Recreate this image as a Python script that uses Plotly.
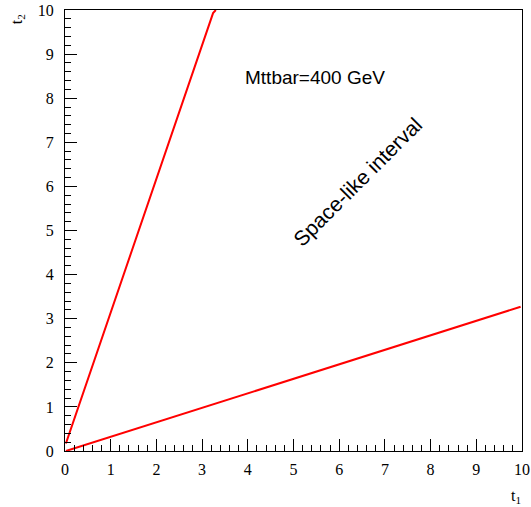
import plotly.graph_objects as go

# Data
steep_t1 = [0.02, 3.24, 3.30]
steep_t2 = [0.17, 9.93, 10.0]
low_t1 = [0.02, 9.97]
low_t2 = [0.0, 3.27]

tick_vals = list(range(0, 11))
tick_text = [str(v) for v in tick_vals]

fig = go.Figure()
fig.add_trace(go.Scatter(x=steep_t1, y=steep_t2, mode="lines",
                         line=dict(color="#ff0000", width=2), showlegend=False))
fig.add_trace(go.Scatter(x=low_t1, y=low_t2, mode="lines",
                         line=dict(color="#ff0000", width=2), showlegend=False))

axis_common = dict(
    range=[0, 10], tickvals=tick_vals, ticktext=tick_text,
    ticks="inside", ticklen=12, tickwidth=1, tickcolor="black",
    showline=True, linecolor="black", linewidth=1, mirror=True,
    showgrid=False, zeroline=False, automargin=False,
    tickfont=dict(family="Liberation Serif", size=16, color="black"),
    minor=dict(dtick=0.2, ticks="inside", ticklen=6, tickwidth=1, tickcolor="black", showgrid=False),
    fixedrange=True,
)

fig.update_layout(
    width=531, height=507,
    margin=dict(l=65, r=9, t=10, b=56),
    paper_bgcolor="white", plot_bgcolor="white",
    xaxis=dict(**axis_common, ticklabelstandoff=4),
    yaxis=dict(**axis_common, ticklabelstandoff=7),
    annotations=[
        dict(x=5.48, y=8.47, xref="x", yref="y", text="Mttbar=400 GeV", showarrow=False,
             font=dict(family="Liberation Sans", size=19, color="black")),
        dict(x=6.41, y=6.1, xref="x", yref="y", text="Space-like interval", showarrow=False,
             textangle=-45, font=dict(family="Liberation Sans", size=21, color="black")),
        dict(x=1.003, y=-0.104, xref="paper", yref="paper", text="t<sub>1</sub>", showarrow=False,
             xanchor="right", yanchor="middle",
             font=dict(family="Liberation Serif", size=16, color="black")),
        dict(x=-0.105, y=0.995, xref="paper", yref="paper", text="t<sub>2</sub>", showarrow=False,
             xanchor="center", yanchor="top", textangle=-90,
             font=dict(family="Liberation Serif", size=16, color="black")),
    ],
)

fig.write_html("out.html")
